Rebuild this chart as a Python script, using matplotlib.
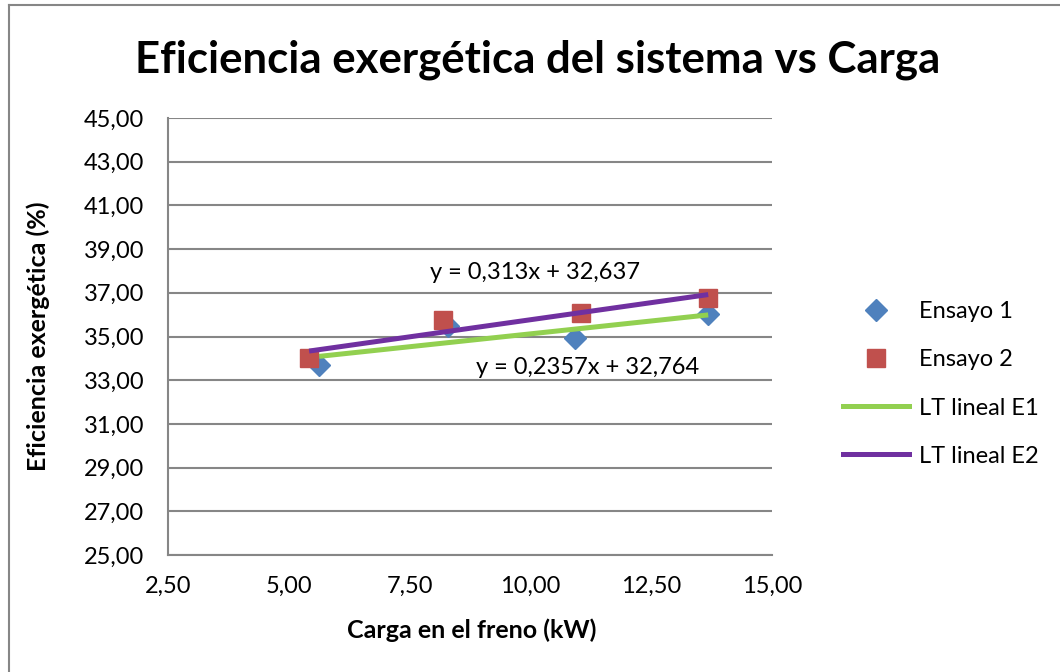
import numpy as np
import matplotlib
matplotlib.use('Agg')
import matplotlib.pyplot as plt
from matplotlib.ticker import FuncFormatter
from matplotlib.lines import Line2D

plt.rcParams['font.family'] = ['Lato', 'DejaVu Sans']

# datos
carga_e1 = [5.63, 8.30, 10.93, 13.68]
efic_e1 = [33.70, 35.50, 34.93, 36.03]
carga_e2 = [5.42, 8.19, 11.05, 13.68]
efic_e2 = [34.00, 35.75, 36.07, 36.76]
# lineas de tendencia (coeficientes de la etiqueta)
pend_e1, orig_e1 = 0.2357, 32.764
pend_e2, orig_e2 = 0.313, 32.637
eq_e1 = 'y = 0,2357x + 32,764'
eq_e2 = 'y = 0,313x + 32,637'
xticks = [2.5, 5.0, 7.5, 10.0, 12.5, 15.0]
yticks = [25, 27, 29, 31, 33, 35, 37, 39, 41, 43, 45]

gris = '#868686'
azul = '#4F81BD'
rojo = '#C0504D'
verde = '#92D050'
morado = '#7030A0'

fig = plt.figure(figsize=(10.6, 6.72), dpi=100)
ax = fig.add_axes([168/1060, 1-555/672, (772-168)/1060, (555-118)/672])

ax.plot(carga_e1, efic_e1, 'D', color=azul, markersize=11, zorder=3, label='Ensayo 1')
ax.plot(carga_e2, efic_e2, 's', color=rojo, markersize=13, zorder=4, label='Ensayo 2')

x1 = np.array([min(carga_e1), max(carga_e1)])
x2 = np.array([min(carga_e2), max(carga_e2)])
ax.plot(x1, pend_e1*x1 + orig_e1, color=verde, lw=3.6, zorder=5, solid_capstyle='butt')
ax.plot(x2, pend_e2*x2 + orig_e2, color=morado, lw=3.6, zorder=6, solid_capstyle='butt')

ax.text(10.1, 37.95, eq_e2, ha='center', va='center', fontsize=17)
ax.text(11.19, 33.6, eq_e1, ha='center', va='center', fontsize=17)

ax.set_xlim(2.5, 15)
ax.set_ylim(25, 45)
ax.set_xticks(xticks)
ax.set_yticks(yticks)
fmt = FuncFormatter(lambda v, p: f'{v:.2f}'.replace('.', ','))
ax.xaxis.set_major_formatter(fmt)
ax.yaxis.set_major_formatter(fmt)
ax.tick_params(labelsize=17, length=0)
ax.tick_params(axis='y', pad=17)
ax.tick_params(axis='x', pad=15)
ax.grid(axis='y', color=gris, lw=1.5)
ax.set_axisbelow(True)
for s in ['top', 'right']:
    ax.spines[s].set_visible(False)
for s in ['left', 'bottom']:
    ax.spines[s].set_color(gris)
    ax.spines[s].set_linewidth(1.5)

ax.set_xlabel('Carga en el freno (kW)', fontsize=18, fontweight='bold')
ax.set_ylabel('Eficiencia exergética (%)', fontsize=18, fontweight='bold')
ax.xaxis.set_label_coords(0.503, -0.145)
ax.yaxis.set_label_coords(-0.195, 0.5)

fig.text(538/1060, 1-60/672, 'Eficiencia exergética del sistema vs Carga', ha='center', va='center',
         fontsize=31.5, fontweight='bold')

handles = [Line2D([], [], ls='none', marker='D', color=azul, markersize=11),
           Line2D([], [], ls='none', marker='s', color=rojo, markersize=13),
           Line2D([], [], color=verde, lw=3.6),
           Line2D([], [], color=morado, lw=3.6)]
fig.legend(handles, ['Ensayo 1', 'Ensayo 2', 'LT lineal E1', 'LT lineal E2'],
           loc='center left', bbox_to_anchor=(822/1060, 1-384/672), frameon=False,
           fontsize=17, handlelength=2.8, handletextpad=0.4, labelspacing=1.15)

# marco del grafico
fig.add_artist(Line2D([9/1060, 9/1060], [0, 1-5/672], color=gris, lw=1.5))
fig.add_artist(Line2D([9/1060, 1], [1-5/672, 1-5/672], color=gris, lw=1.5))

fig.savefig('out.png', dpi=100)
